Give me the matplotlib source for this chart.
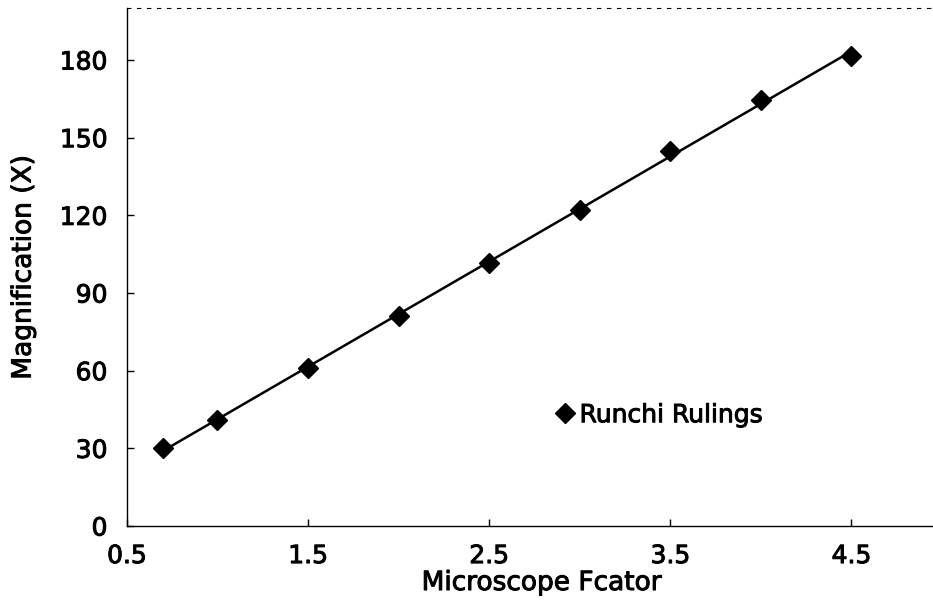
import numpy as np
import matplotlib.pyplot as plt
import matplotlib.patheffects as pe

factor = [0.7, 1.0, 1.5, 2.0, 2.5, 3.0, 3.5, 4.0, 4.5]
magnification = [30, 41, 61, 81, 101.5, 122, 145, 164.5, 181.5]

xticks = [0.5, 1.5, 2.5, 3.5, 4.5]
yticks = [0, 30, 60, 90, 120, 150, 180]

plt.rcParams['font.family'] = ['DejaVu Sans']

fig = plt.figure(figsize=(9.33, 6.12), dpi=100)
ax = fig.add_axes([0.136, 0.1405, 0.864, 0.846])

# linear fit through the measured points
k, b = np.polyfit(factor, magnification, 1)
xf = np.array([factor[0], factor[-1]])
ax.plot(xf, k * xf + b, color='black', linewidth=1.8, zorder=2)
ax.plot(factor, magnification, linestyle='none', marker='D', markersize=10.5,
        color='black', label='Runchi Rulings', zorder=3)

ax.set_xlim(0.5, 4.95)
ax.set_ylim(0, 200)
ax.set_xticks(xticks)
ax.set_yticks(yticks)
ax.tick_params(direction='in', length=5, width=1, labelsize=18)
ax.tick_params(axis='x', pad=13)
ax.tick_params(axis='y', pad=14)
ax.set_xlabel("Microscope Fcator", fontsize=19)
ax.set_ylabel("Magnification (X)", fontsize=19)
ax.xaxis.set_label_coords(0.515, -0.085)
ax.yaxis.set_label_coords(-0.112, 0.5)

ax.spines['right'].set_visible(False)
ax.spines['top'].set_linestyle((0, (3, 6)))
ax.spines['top'].set_linewidth(0.8)
ax.spines['left'].set_linewidth(1)
ax.spines['bottom'].set_linewidth(1)

leg = ax.legend(loc='center left', bbox_to_anchor=(0.515, 0.214), frameon=False,
                fontsize=18, handlelength=0.8, handletextpad=0.2, borderpad=0,
                numpoints=1)

# scanned original has heavier type
thick = [pe.withStroke(linewidth=0.7, foreground='black')]
texts = ax.get_xticklabels() + ax.get_yticklabels() + leg.get_texts()
texts += [ax.xaxis.label, ax.yaxis.label]
for t in texts:
    t.set_path_effects(thick)

fig.savefig("out.png", dpi=100)
